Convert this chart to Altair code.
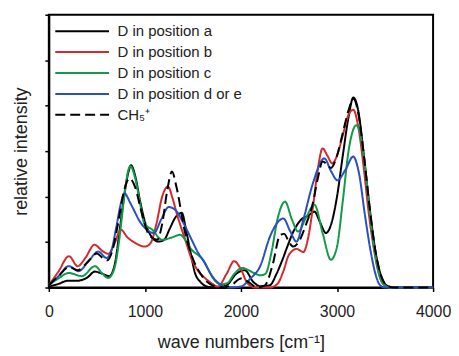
import altair as alt
import pandas as pd

series = ["D in position a", "D in position b", "D in position c",
          "D in position d or e", "CH\u2085\u207a"]
colors = ["#000000", "#d22a2e", "#109a4a", "#2a4fbf", "#000000"]
dashes = [[1, 0], [1, 0], [1, 0], [1, 0], [10, 5]]

wn_a = [0, 100, 200, 300, 400, 480, 560, 630, 690, 740, 790, 830, 855, 900, 950, 1000,
        1060, 1140, 1200, 1260, 1320, 1385, 1430, 1470, 1520, 1580, 1650, 1750, 1850,
        1950, 2040, 2130, 2200, 2300, 2370, 2430, 2490, 2550, 2630, 2700, 2765, 2820,
        2885, 2940, 3000, 3060, 3120, 3170, 3220, 3280, 3340, 3400, 3460, 3530, 3600, 4000]
val_a = [0.02, 0.08, 0.15, 0.15, 0.22, 0.35, 0.3, 0.25, 0.55, 1.3, 2.1, 2.55, 2.69, 2.45,
         1.9, 1.45, 1.15, 1.01, 1.05, 1.3, 1.55, 1.64, 1.25, 0.83, 0.33, 0.12, 0.02, 0.0,
         0.05, 0.3, 0.38, 0.12, 0.03, 0.05, 0.3, 0.6, 0.94, 1.25, 1.5, 1.58, 1.67, 1.45,
         1.2, 1.4, 2.0, 2.9, 3.75, 4.18, 3.9, 2.9, 1.75, 0.8, 0.25, 0.03, 0.0, 0.0]

wn_b = [0, 100, 210, 300, 380, 475, 560, 620, 680, 750, 820, 900, 1000, 1060, 1120,
        1180, 1240, 1290, 1330, 1420, 1490, 1560, 1630, 1690, 1760, 1850, 1930, 2000,
        2066, 2150, 2300, 2380, 2440, 2500, 2580, 2650, 2700, 2750, 2800, 2850, 2900,
        2950, 3000, 3060, 3120, 3170, 3220, 3280, 3330, 3380, 3430, 3480, 3550, 4000]
val_b = [0.05, 0.35, 0.69, 0.47, 0.65, 0.94, 0.8, 0.74, 0.95, 1.27, 1.1, 0.98, 0.9, 0.98,
         1.4, 2.0, 2.22, 1.95, 1.64, 1.05, 0.61, 0.35, 0.2, 0.1, 0.02, 0.3, 0.58, 0.4,
         0.1, 0.0, 0.0, 0.08, 0.35, 0.72, 0.85, 0.78, 1.1, 1.78, 2.6, 3.06, 2.9, 2.73,
         2.9, 3.35, 3.8, 3.91, 3.55, 2.6, 1.64, 0.9, 0.35, 0.08, 0.0, 0.0]

wn_c = [0, 100, 208, 345, 480, 560, 617, 680, 730, 780, 830, 849, 900, 950, 992, 1077,
        1180, 1280, 1367, 1420, 1487, 1550, 1606, 1660, 1708, 1790, 1860, 1930, 2015,
        2080, 2135, 2200, 2254, 2320, 2380, 2459, 2530, 2595, 2680, 2765, 2850, 2936,
        3000, 3060, 3120, 3202, 3250, 3300, 3360, 3420, 3480, 3550, 4000]
val_c = [0.05, 0.2, 0.32, 0.25, 0.47, 0.3, 0.21, 0.4, 1.0, 1.9, 2.6, 2.67, 2.4, 1.85,
         1.42, 1.27, 1.05, 1.1, 1.16, 1.05, 0.83, 0.72, 0.61, 0.4, 0.21, 0.07, 0.1, 0.3,
         0.43, 0.38, 0.32, 0.27, 0.3, 0.8, 1.5, 1.89, 1.5, 1.23, 1.55, 1.82, 1.2, 0.61,
         0.9, 1.9, 3.0, 3.57, 3.3, 2.5, 1.3, 0.45, 0.08, 0.0, 0.0]

wn_d = [0, 100, 208, 310, 420, 515, 600, 650, 700, 750, 788, 850, 958, 1095, 1170, 1248,
        1320, 1401, 1487, 1550, 1623, 1680, 1726, 1800, 1880, 1996, 2100, 2200, 2302,
        2370, 2442, 2510, 2578, 2650, 2750, 2868, 2940, 3004, 3090, 3168, 3230, 3290,
        3350, 3400, 3448, 3500, 4000]
val_d = [0.05, 0.25, 0.47, 0.36, 0.6, 0.79, 0.65, 0.8, 1.3, 1.85, 2.07, 1.85, 1.42, 1.2,
         1.5, 1.77, 1.7, 1.42, 1.05, 0.78, 0.54, 0.32, 0.18, 0.05, 0.0, 0.02, 0.2, 0.47,
         1.12, 1.4, 1.52, 1.25, 1.01, 1.5, 2.3, 2.84, 2.55, 2.36, 2.6, 2.88, 2.5, 1.6,
         0.8, 0.3, 0.05, 0.0, 0.0]

wn_e = [0, 100, 210, 300, 400, 500, 560, 610, 660, 720, 780, 840, 900, 960, 1043, 1128,
        1180, 1230, 1282, 1330, 1419, 1504, 1580, 1650, 1720, 1800, 1900, 2000, 2080,
        2170, 2250, 2330, 2407, 2450, 2500, 2544, 2600, 2680, 2749, 2800, 2851, 2900,
        2936, 3000, 3060, 3120, 3170, 3220, 3280, 3340, 3400, 3460, 3530, 3600, 4000]
val_e = [0.05, 0.25, 0.45, 0.38, 0.55, 0.75, 0.65, 0.6, 0.8, 1.4, 2.1, 2.4, 2.2, 1.7,
         1.16, 1.05, 1.4, 2.1, 2.55, 2.2, 1.2, 0.61, 0.3, 0.12, 0.03, 0.0, 0.05, 0.2,
         0.12, 0.0, 0.05, 0.5, 1.15, 1.18, 1.0, 0.9, 1.0, 1.4, 1.86, 2.4, 2.77, 2.7,
         2.63, 2.9, 3.4, 3.9, 4.15, 3.85, 2.9, 1.75, 0.8, 0.25, 0.03, 0.0, 0.0]

x_ticks = [0, 1000, 2000, 3000, 4000]
y_ticks = [0, 1, 2, 3, 4, 5, 6]
x_range = [0, 4000]
y_range = [0, 6]

rows = []
for name, wns, vals in zip(series, [wn_a, wn_b, wn_c, wn_d, wn_e],
                           [val_a, val_b, val_c, val_d, val_e]):
    for w, v in zip(wns, vals):
        rows.append({"series": name, "wn": w, "val": v})
df = pd.DataFrame(rows)

FONT = "Liberation Sans"
LEG_PATH = "M-7,0H11"

legend_opts = dict(title=None, orient="none", legendX=20, legendY=9,
                   symbolType=LEG_PATH, symbolSize=36, symbolStrokeWidth=2,
                   labelOffset=34, labelFontSize=15, labelFont=FONT,
                   labelColor="#222222", rowPadding=5, padding=0)

xscale = alt.Scale(domain=x_range, nice=False)
yscale = alt.Scale(domain=y_range, nice=False)

chart = alt.Chart(df).mark_line(strokeWidth=2, interpolate="monotone").encode(
    x=alt.X("wn:Q", scale=xscale,
            axis=alt.Axis(values=x_ticks, title="wave numbers [cm\u207b\u00b9]", grid=False,
                          format="d", labelFontSize=16, titleFontSize=18,
                          labelPadding=12, labelFlush=False, titlePadding=14,
                          tickSize=4)),
    y=alt.Y("val:Q", scale=yscale,
            axis=alt.Axis(values=y_ticks, labels=False, title="relative intensity",
                          grid=False, titleFontSize=18, titlePadding=14, tickSize=4)),
    color=alt.Color("series:N", scale=alt.Scale(domain=series, range=colors),
                    sort=series, legend=alt.Legend(**legend_opts)),
    strokeDash=alt.StrokeDash("series:N", scale=alt.Scale(domain=series, range=dashes),
                              sort=series, legend=alt.Legend(**legend_opts)),
).properties(
    width=386, height=274,
    padding={"left": 4, "top": 5, "right": 0, "bottom": 2},
).configure_view(
    stroke="#000000", strokeWidth=2, strokeOpacity=1
).configure_axis(
    domainColor="#000000", domainWidth=2, tickColor="#000000", tickWidth=1.5,
    labelFont=FONT, titleFont=FONT, labelColor="#222222", titleColor="#222222",
    titleFontWeight="normal"
)

chart.save("out.html", embed_options={"renderer": "svg", "actions": False})
